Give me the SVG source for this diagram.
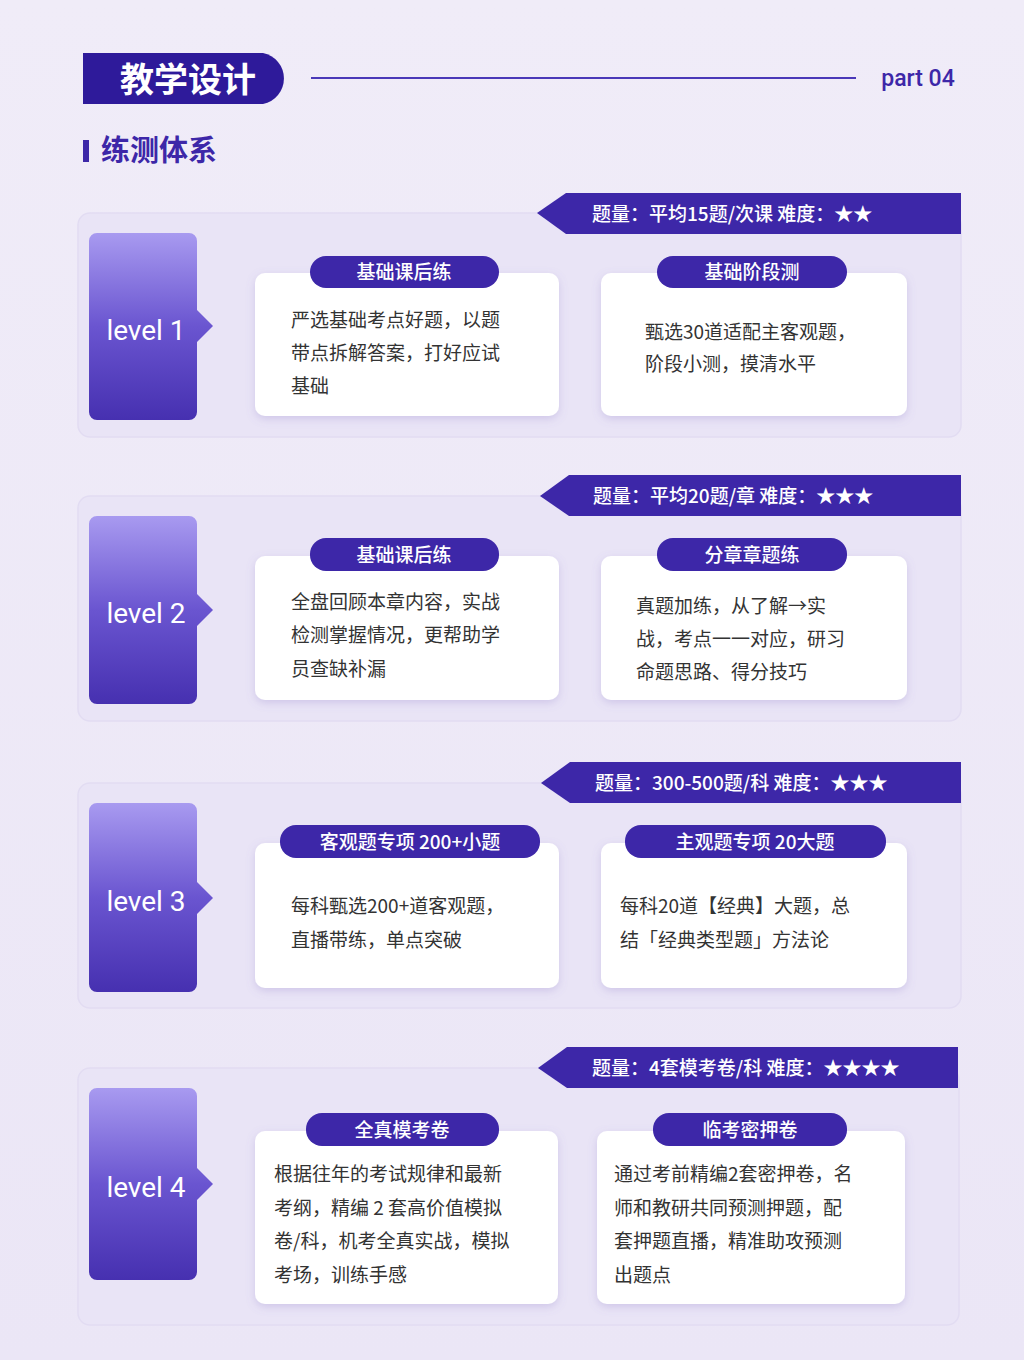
<svg xmlns="http://www.w3.org/2000/svg" width="1024" height="1360" viewBox="0 0 1024 1360">
<defs>
<linearGradient id="bg" x1="0" y1="0" x2="0" y2="1"><stop offset="0" stop-color="#f0ecf8"/><stop offset="1" stop-color="#ebe6f6"/></linearGradient>
<linearGradient id="lv" x1="0" y1="0" x2="0" y2="1"><stop offset="0" stop-color="#a89af0"/><stop offset="0.5" stop-color="#6a55d0"/><stop offset="1" stop-color="#4630b0"/></linearGradient>
<filter id="sh" x="-10%" y="-10%" width="120%" height="130%"><feDropShadow dx="0" dy="3" stdDeviation="4" flood-color="#8070c0" flood-opacity="0.25"/></filter>
<style>
.cn{font-family:"Noto Sans CJK SC","Liberation Sans",sans-serif}
.panel{fill:#e9e4f6;stroke:#e2dcf2;stroke-width:1.5}
.card{fill:#fff;filter:url(#sh)}
.pill{fill:#3d27a8}
.ban{fill:#3d27a8}
.pt{fill:#fff;font-size:19px;font-weight:500;text-anchor:middle}
.bt{fill:#fff;font-size:19px;font-weight:500}
.body{fill:#333;font-size:19px}
.lvt{fill:#fff;font-size:28px;font-family:"Roboto","Liberation Sans",sans-serif;text-anchor:middle}
</style>
</defs>
<rect width="1024" height="1360" fill="url(#bg)"/>
<g id="header">
<path d="M83 53 H263 A26 26 0 0 1 263 104 H83 Z" fill="#2e1a9a"/>
<text x="188" y="92" class="cn" font-size="34" font-weight="700" fill="#fff" text-anchor="middle">教学设计</text>
<line x1="311" y1="78" x2="856" y2="78" stroke="#4a38b8" stroke-width="2"/>
<text x="918" y="86" font-family="Roboto,'Liberation Sans',sans-serif" font-size="23" font-weight="500" fill="#3d27a8" text-anchor="middle">part 04</text>
<rect x="83" y="140" width="6" height="22" fill="#3d27a8"/>
<text x="101" y="161" class="cn" font-size="29" font-weight="700" fill="#3d27a8">练测体系</text>
</g>

<g id="level1">
<rect class="panel" x="78" y="213" width="883" height="224" rx="12"/>
<path class="ban" d="M537 213 L566 193 H961 V234 H566 Z"/>
<text class="cn bt" x="592" y="221">题量：平均15题/次课  难度：★★</text>
<path d="M97 233 H189 A8 8 0 0 1 197 241 V310 L213 326 L197 342 V412 A8 8 0 0 1 189 420 H97 A8 8 0 0 1 89 412 V241 A8 8 0 0 1 97 233 Z" fill="url(#lv)"/>
<text class="lvt" x="146" y="340">level 1</text>
<rect class="card" x="255" y="273" width="304" height="143" rx="10"/>
<rect class="pill" x="310" y="256" width="189" height="32" rx="16"/>
<text class="cn pt" x="404" y="279">基础课后练</text>
<text class="cn body" x="291" y="327">严选基础考点好题，以题</text>
<text class="cn body" x="291" y="360">带点拆解答案，打好应试</text>
<text class="cn body" x="291" y="393">基础</text>
<rect class="card" x="601" y="273" width="306" height="143" rx="10"/>
<rect class="pill" x="657" y="256" width="190" height="32" rx="16"/>
<text class="cn pt" x="752" y="279">基础阶段测</text>
<text class="cn body" x="645" y="339">甄选30道适配主客观题，</text>
<text class="cn body" x="645" y="371">阶段小测，摸清水平</text>
</g>

<g id="level2">
<rect class="panel" x="78" y="496" width="883" height="225" rx="12"/>
<path class="ban" d="M540 496 L569 475 H961 V516 H569 Z"/>
<text class="cn bt" x="593" y="503">题量：平均20题/章  难度：★★★</text>
<path d="M97 516 H189 A8 8 0 0 1 197 524 V594 L213 610 L197 626 V696 A8 8 0 0 1 189 704 H97 A8 8 0 0 1 89 696 V524 A8 8 0 0 1 97 516 Z" fill="url(#lv)"/>
<text class="lvt" x="146" y="623">level 2</text>
<rect class="card" x="255" y="556" width="304" height="144" rx="10"/>
<rect class="pill" x="310" y="538" width="189" height="33" rx="16"/>
<text class="cn pt" x="404" y="562">基础课后练</text>
<text class="cn body" x="291" y="609">全盘回顾本章内容，实战</text>
<text class="cn body" x="291" y="642">检测掌握情况，更帮助学</text>
<text class="cn body" x="291" y="676">员查缺补漏</text>
<rect class="card" x="601" y="556" width="306" height="144" rx="10"/>
<rect class="pill" x="657" y="538" width="190" height="33" rx="16"/>
<text class="cn pt" x="752" y="562">分章章题练</text>
<text class="cn body" x="636" y="613">真题加练，从了解→实</text>
<text class="cn body" x="636" y="646">战，考点一一对应，研习</text>
<text class="cn body" x="636" y="679">命题思路、得分技巧</text>
</g>

<g id="level3">
<rect class="panel" x="78" y="783" width="883" height="225" rx="12"/>
<path class="ban" d="M541 783 L570 762 H961 V803 H570 Z"/>
<text class="cn bt" x="595" y="790">题量：300-500题/科  难度：★★★</text>
<path d="M97 803 H189 A8 8 0 0 1 197 811 V882 L213 898 L197 914 V984 A8 8 0 0 1 189 992 H97 A8 8 0 0 1 89 984 V811 A8 8 0 0 1 97 803 Z" fill="url(#lv)"/>
<text class="lvt" x="146" y="911">level 3</text>
<rect class="card" x="255" y="843" width="304" height="145" rx="10"/>
<rect class="pill" x="280" y="825" width="260" height="33" rx="16"/>
<text class="cn pt" x="410" y="849">客观题专项  200+小题</text>
<text class="cn body" x="291" y="913">每科甄选200+道客观题，</text>
<text class="cn body" x="291" y="947">直播带练，单点突破</text>
<rect class="card" x="601" y="843" width="306" height="145" rx="10"/>
<rect class="pill" x="625" y="825" width="261" height="33" rx="16"/>
<text class="cn pt" x="755" y="849">主观题专项  20大题</text>
<text class="cn body" x="620" y="913">每科20道【经典】大题，总</text>
<text class="cn body" x="620" y="947">结「经典类型题」方法论</text>
</g>

<g id="level4">
<rect class="panel" x="78" y="1068" width="881" height="257" rx="12"/>
<path class="ban" d="M538 1068 L567 1047 H958 V1088 H567 Z"/>
<text class="cn bt" x="592" y="1075">题量：4套模考卷/科   难度：★★★★</text>
<path d="M97 1088 H189 A8 8 0 0 1 197 1096 V1168 L213 1184 L197 1200 V1272 A8 8 0 0 1 189 1280 H97 A8 8 0 0 1 89 1272 V1096 A8 8 0 0 1 97 1088 Z" fill="url(#lv)"/>
<text class="lvt" x="146" y="1197">level 4</text>
<rect class="card" x="255" y="1131" width="303" height="173" rx="10"/>
<rect class="pill" x="306" y="1113" width="193" height="33" rx="16"/>
<text class="cn pt" x="402" y="1137">全真模考卷</text>
<text class="cn body" x="274" y="1181">根据往年的考试规律和最新</text>
<text class="cn body" x="274" y="1215">考纲，精编 2 套高价值模拟</text>
<text class="cn body" x="274" y="1248">卷/科，机考全真实战，模拟</text>
<text class="cn body" x="274" y="1282">考场，训练手感</text>
<rect class="card" x="597" y="1131" width="308" height="173" rx="10"/>
<rect class="pill" x="653" y="1113" width="194" height="33" rx="16"/>
<text class="cn pt" x="750" y="1137">临考密押卷</text>
<text class="cn body" x="614" y="1181">通过考前精编2套密押卷，名</text>
<text class="cn body" x="614" y="1215">师和教研共同预测押题，配</text>
<text class="cn body" x="614" y="1248">套押题直播，精准助攻预测</text>
<text class="cn body" x="614" y="1282">出题点</text>
</g>
</svg>
